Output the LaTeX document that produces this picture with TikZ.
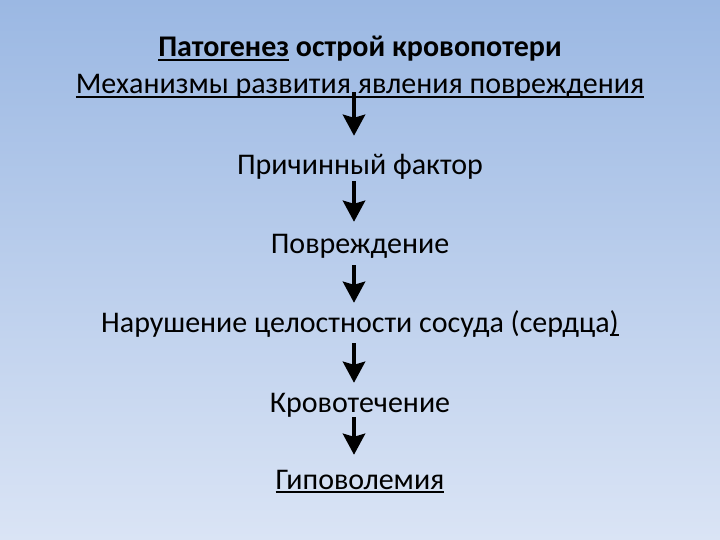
\documentclass[tikz,border=0pt]{standalone}
\usepackage{fontspec}
\setmainfont{Carlito}
\usetikzlibrary{arrows.meta}
\newlength{\ulwidth}
\newcommand{\uln}[1]{\settowidth{\ulwidth}{#1}\rlap{\rule[-4pt]{\ulwidth}{1.6pt}}#1}
\definecolor{bgtop}{RGB}{155,184,227}
\definecolor{bgbot}{RGB}{218,228,245}
\tikzset{
	stage/.style={anchor=base, inner sep=0pt, text height=20pt, text depth=6pt, font=\fontsize{30}{36}\selectfont},
	flow/.style={line width=4.5pt, -{Stealth[length=21pt,width=22pt,inset=3pt]}},
}

\begin{document}
\begin{tikzpicture}[x=1pt,y=1pt]
	\shade[top color=bgtop, bottom color=bgbot] (0,0) rectangle (720,-540);
	\useasboundingbox (0,0) rectangle (720,-540);

	% title and steps
	\node[stage] (title) at (360,-57) {\textbf{\uln{Патогенез} острой кровопотери}};
	\node[stage] (mech) at (360,-94) {\uln{Механизмы развития явления повреждения}};
	\node[stage] (cause) at (360,-175) {Причинный фактор};
	\node[stage] (damage) at (360,-253) {Повреждение};
	\node[stage] (vessel) at (360,-332) {Нарушение целостности сосуда (сердца\uln{)}};
	\node[stage] (bleed) at (360,-412) {Кровотечение};
	\node[stage] (hypo) at (360,-489) {\uln{Гиповолемия}};

	% arrows
	\draw[flow, shorten <=-8pt, shorten >=19pt] ([xshift=-6pt]mech.south) -- ([xshift=-6pt]cause.north);
	\draw[flow, shorten <=0pt, shorten >=11pt] ([xshift=-6pt]cause.south) -- ([xshift=-6pt]damage.north);
	\draw[flow, shorten <=6pt, shorten >=9pt] ([xshift=-6pt]damage.south) -- ([xshift=-6pt]vessel.north);
	\draw[flow, shorten <=5pt, shorten >=9pt] ([xshift=-6pt]vessel.south) -- ([xshift=-6pt]bleed.north);
	\draw[flow, shorten <=-1pt, shorten >=14pt] ([xshift=-6pt]bleed.south) -- ([xshift=-6pt]hypo.north);
\end{tikzpicture}
\end{document}
